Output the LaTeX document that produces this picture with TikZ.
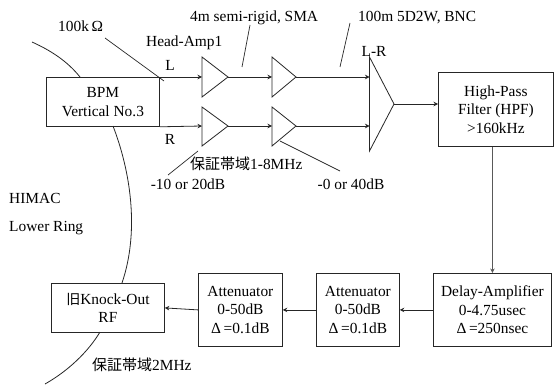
\documentclass[tikz,border=0pt]{standalone}
\usepackage{fontspec}
\setmainfont{Liberation Serif}
\newfontfamily\cjk{Noto Sans CJK JP}
\usetikzlibrary{arrows.meta}
\tikzset{
  x=1pt,y=-1pt,
  line/.style={draw=black!85,line width=0.8pt},
  box/.style={line,draw,inner sep=0pt,align=center,font=\fontsize{15.4}{18.5}\selectfont,anchor=north west},
  lab/.style={inner sep=0pt,font=\fontsize{15.4}{18}\selectfont,anchor=base},
  labl/.style={lab,anchor=base west},
  conn/.style={line,-{Stealth[length=4.5pt,width=4.5pt]}},
  amp/.style={line,line join=miter,fill=white},
  leader/.style={draw=black!85,line width=0.7pt},
  ring/.style={draw=black!85,line width=0.8pt},
}
\begin{document}
\begin{tikzpicture}
\useasboundingbox (0,0) rectangle (554,385);
% boxes
\node[box,minimum width=113pt,minimum height=49pt] (bpm) at (46,77) {BPM\\Vertical No.3};
\node[box,minimum width=115pt,minimum height=74pt] (hpf) at (438,72) {High-Pass\\Filter (HPF)\\>160kHz};
\node[box,minimum width=118pt,minimum height=73pt] (delay) at (433,273) {Delay-Amplifier\\0-4.75usec\\Δ\,=250nsec};
\node[box,minimum width=83pt,minimum height=73pt] (att2) at (316,273) {Attenuator\\0-50dB\\Δ\,=0.1dB};
\node[box,minimum width=84pt,minimum height=73pt] (att1) at (198,273) {Attenuator\\0-50dB\\Δ\,=0.1dB};
\node[box,minimum width=113pt,minimum height=49pt] (ko) at (51,283) {{\cjk\fontsize{14}{18}\selectfont 旧}Knock-Out\\RF};
% amplifier triangles
\coordinate (a1in) at (202,77); \coordinate (a1out) at (228,77);
\coordinate (a2in) at (272,77); \coordinate (a2out) at (296,77);
\coordinate (b1in) at (202,126); \coordinate (b1out) at (228,126);
\coordinate (b2in) at (272,126); \coordinate (b2out) at (296,126);
\coordinate (dl) at (369.5,77); \coordinate (dr) at (369.5,126); \coordinate (dout) at (394,104);
\draw[amp] (202,57) -- (a1out) -- (202,97) -- cycle;
\draw[amp] (272,57) -- (a2out) -- (272,97) -- cycle;
\draw[amp] (202,107) -- (b1out) -- (202,146) -- cycle;
\draw[amp] (272,107) -- (b2out) -- (272,146) -- cycle;
\draw[amp] (369.5,57) -- (dout) -- (369.5,151) -- cycle;
% connectors
\coordinate (bpmL) at (bpm.north east); \coordinate (bpmR) at (bpm.south east);
\draw[conn] (bpmL) -- (a1in);
\draw[conn] (a1out) -- (a2in);
\draw[conn] (a2out) -- (dl);
\draw[conn] (bpmR) -- (b1in);
\draw[conn] (b1out) -- (b2in);
\draw[conn] (b2out) -- (dr);
\draw[conn] (dout) -- (dout -| hpf.west);
\draw[conn,draw=black!65,line width=1.1pt] (hpf.south -| delay.north) -- (delay.north);
\draw[conn] (delay.west) -- (att2.east);
\draw[conn] (att2.west) -- (att1.east);
\draw[conn] (att1.west) -- (ko.east);
% ring
\coordinate (r0) at (32,42); \coordinate (r1) at (80,77);
\coordinate (r2) at (113,126); \coordinate (r3) at (122,283);
\coordinate (r4) at (100,332); \coordinate (r5) at (45,384);
\draw[ring] (r0) .. controls (52,51) and (68,62) .. (r1);
\draw[ring] (r2) .. controls (130,170) and (140,230) .. (r3);
\draw[ring] (r4) .. controls (88,352) and (68,371) .. (r5);
% leaders
\coordinate (l1a) at (105,38); \coordinate (l1b) at (164,81);
\coordinate (l2a) at (250,25); \coordinate (l2b) at (242,67);
\coordinate (l3a) at (350,23); \coordinate (l3b) at (340,67);
\coordinate (l4a) at (198,151); \coordinate (l4b) at (168,175);
\coordinate (l5a) at (280,141); \coordinate (l5b) at (340,171);
\draw[leader] (l1a) -- (l1b);
\draw[leader] (l2a) -- (l2b);
\draw[leader] (l3a) -- (l3b);
\draw[leader] (l4a) -- (l4b);
\draw[leader] (l5a) -- (l5b);
% labels
\node[labl] (t1) at (58,32) {100k\,Ω};
\node[labl] (t2) at (146,47) {Head-Amp1};
\node[labl] (t3) at (190,22) {4m semi-rigid, SMA};
\node[labl] (t4) at (358,22) {100m 5D2W, BNC};
\node[lab] (t5) at (170,71) {L};
\node[lab] (t6) at (170,144) {R};
\node[lab] (t7) at (374,57) {L-R};
\node[lab] (t8) at (188,189) {-10 or 20dB};
\node[labl] (t9) at (190,169) {{\cjk\fontsize{15}{18}\selectfont 保証帯域}1-8MHz};
\node[lab] (t10) at (351,189) {-0 or 40dB};
\node[labl] (t11) at (9,203) {HIMAC};
\node[labl] (t12) at (9,231) {Lower Ring};
\node[labl] (t13) at (92,370) {{\cjk\fontsize{15}{18}\selectfont 保証帯域}2MHz};
\end{tikzpicture}
\end{document}
